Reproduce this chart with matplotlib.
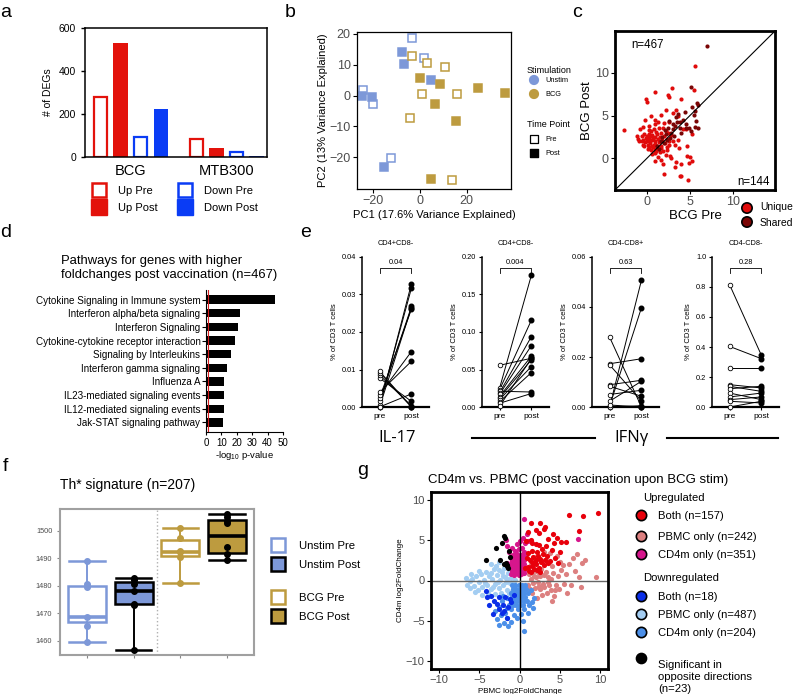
import matplotlib
matplotlib.use('Agg')
import matplotlib.pyplot as plt
from matplotlib.patches import Rectangle
import numpy as np

plt.rcParams['font.family'] = ['Liberation Sans', 'DejaVu Sans']
plt.rcParams['mathtext.fontset'] = 'custom'
plt.rcParams['mathtext.rm'] = 'Liberation Sans'
plt.rcParams['mathtext.it'] = 'Liberation Sans:italic'
plt.rcParams['mathtext.bf'] = 'Liberation Sans:bold'

# ---------------- data ----------------
# a: number of DEGs
a_groups = ['BCG', 'MTB300']
a_up_pre = [280, 84]
a_up_post = [530, 42]
a_down_pre = [94, 25]
a_down_post = [222, 5]

# b: PCA
b_unstim_pre = [(-3.6, 18.6), (1.7, 12.2), (-24.3, 1.7), (-20.0, -2.7), (-12.6, -20.4)]
b_unstim_post = [(-7.6, 14.0), (-7.0, 10.2), (4.6, 5.2), (-24.7, 0.0), (-20.4, -0.4), (-15.6, -23.3)]
b_bcg_pre = [(-3.6, 12.7), (3.1, 10.5), (10.7, 9.2), (0.7, 0.5), (15.9, 0.6), (-4.3, -7.2), (13.6, -27.4)]
b_bcg_post = [(0.1, 5.8), (8.6, 3.7), (6.6, -2.7), (15.6, -8.1), (24.7, 2.6), (36.4, 0.8), (4.6, -27.1)]

# c: BCG pre vs post log2FC
c_unique = [(5.6, 10.8), (0.9, 7.8), (2.9, 8.2), (-0.1, 6.9), (0.0, 6.6), (2.5, 7.4), (2.6, 7.2), (4.0, 6.9),
            (5.5, 8.0), (-2.6, 3.3), (0.5, 4.9), (-0.2, 4.5), (-0.8, 3.4), (-1.2, 2.6), (1.9, -0.7), (2.0, -1.8),
            (2.7, 0.3), (2.8, 0.0), (3.4, -0.4), (3.3, -1.0), (4.0, -0.7), (3.8, -2.1), (4.0, -2.1), (4.8, -2.5),
            (4.7, 0.3), (5.0, 0.2), (4.9, -0.6), (5.2, -0.3), (4.7, 1.4), (5.2, 2.8), (3.7, 1.2), (3.6, 2.2),
            (4.2, 3.4), (4.6, 3.4), (3.6, 4.9), (3.4, 5.7), (3.0, 5.3), (2.2, 5.7), (1.6, 5.1), (0.9, 4.5),
            (0.3, 3.8), (-0.4, 3.7), (-1.0, 2.3), (-0.6, 2.0), (1.5, 0.7), (0.9, 0.9), (1.3, 0.2), (2.3, 1.0),
            (2.6, 1.6), (3.1, 2.0), (3.3, 1.6), (-0.9, 2.0), (-0.5, 1.6), (0.2, 1.2), (0.6, 0.5), (1.0, -0.3),
            (1.6, -0.2), (2.2, 0.4), (-0.3, 2.9), (0.4, 2.6), (0.0, 2.0), (0.2, 2.3), (0.4, 1.8), (0.6, 2.1),
            (0.8, 1.6), (1.0, 2.0), (1.2, 1.4), (1.4, 1.9), (0.1, 1.6), (0.3, 1.3), (0.5, 1.0), (0.7, 1.3),
            (0.9, 1.1), (1.1, 0.9), (1.3, 1.1), (-0.2, 1.9), (-0.4, 2.2), (0.0, 2.6), (0.3, 2.9), (0.6, 2.7),
            (0.9, 2.5), (1.2, 2.8), (1.5, 2.5), (1.7, 3.0), (2.0, 2.6), (1.8, 2.1), (1.6, 1.5), (2.1, 1.8),
            (2.4, 2.3), (0.5, 3.2), (0.8, 3.4), (1.1, 3.1), (1.4, 3.5), (1.9, 3.6), (2.2, 3.2), (0.1, 1.1),
            (0.6, 1.5), (1.0, 1.7), (1.3, 2.3), (0.4, 2.2), (0.7, 2.4), (-0.1, 2.4), (1.7, 1.2), (2.3, 1.3),
            (2.6, 2.0), (2.8, 2.7), (2.5, 3.0), (1.0, 4.0), (1.3, 4.3), (2.0, 4.1), (2.6, 4.2), (0.2, 3.3),
            (-0.6, 2.6), (-0.3, 1.4), (0.9, 0.6), (1.9, 0.9)]
c_shared = [(7.05, 13.2), (5.1, 8.4), (5.8, 6.5), (5.9, 6.3), (5.3, 6.0), (5.6, 5.5), (5.5, 5.1), (5.7, 4.4),
            (5.6, 3.7), (5.9, 3.6), (2.5, 3.5), (3.0, 4.0), (3.5, 4.2), (2.8, 3.0), (3.8, 3.5), (4.2, 4.5),
            (4.5, 3.6), (2.2, 2.8), (1.8, 2.5), (3.2, 2.6), (4.0, 3.0), (2.6, 4.4), (3.4, 4.8), (3.6, 5.2),
            (4.6, 4.0), (1.2, 1.4), (1.6, 2.0), (2.0, 1.8), (2.4, 2.2), (5.1, 3.2), (4.9, 3.6), (3.0, 3.4),
            (3.3, 3.8), (2.7, 2.4), (1.4, 1.1), (2.1, 3.3), (3.9, 4.2), (4.4, 5.4)]

# d: pathways
d_terms = ['Cytokine Signaling in Immune system', 'Interferon alpha/beta signaling', 'Interferon Signaling',
           'Cytokine-cytokine receptor interaction', 'Signaling by Interleukins', 'Interferon gamma signaling',
           'Influenza A', 'IL23-mediated signaling events', 'IL12-mediated signaling events',
           'Jak-STAT signaling pathway']
d_logp = [45, 21.8, 21, 18.6, 16, 13.5, 11.7, 11.7, 11.7, 11.3]

# e: paired flow data
e_titles = ['CD4+CD8-', 'CD4+CD8-', 'CD4-CD8+', 'CD4-CD8-']
e_pvals = ['0.04', '0.004', '0.63', '0.28']
e1_pre = [0.0, 0.0005, 0.0015, 0.0024, 0.0, 0.0033, 0.0039, 0.0, 0.0077, 0.0085, 0.0092, 0.0095]
e1_post = [0.0329, 0.0317, 0.0268, 0.0261, 0.0265, 0.0148, 0.0122, 0.0035, 0.0015, 0.0003, 0.0, 0.0]
e2_pre = [0.0556, 0.025, 0.023, 0.021, 0.019, 0.017, 0.014, 0.012, 0.010, 0.007, 0.005, 0.001]
e2_post = [0.065, 0.176, 0.116, 0.020, 0.094, 0.082, 0.068, 0.063, 0.054, 0.046, 0.018, 0.065]
e3_pre = [0.0, 0.0003, 0.028, 0.0173, 0.0169, 0.0089, 0.0083, 0.005, 0.0023, 0.0, 0.0008]
e3_post = [0.0507, 0.0397, 0.0, 0.0193, 0.0023, 0.0107, 0.0043, 0.0067, 0.0103, 0.0005, 0.0]
e4_pre = [0.816, 0.404, 0.258, 0.149, 0.138, 0.122, 0.093, 0.067, 0.049, 0.038, 0.0]
e4_post = [0.344, 0.322, 0.258, 0.127, 0.104, 0.138, 0.049, 0.093, 0.067, 0.027, 0.038]
e_ymax = [0.04, 0.20, 0.06, 1.0]
e_ystep = [0.01, 0.05, 0.02, 0.2]

# f: Th* signature boxes
f_groups = ['Unstim Pre', 'Unstim Post', 'BCG Pre', 'BCG Post']
f_lo = [1459.5, 1456.5, 1481.0, 1489.5]
f_q1 = [1467.0, 1473.5, 1491.0, 1492.0]
f_med = [1468.7, 1478.0, 1492.5, 1498.0]
f_q3 = [1480.0, 1481.3, 1496.7, 1504.0]
f_hi = [1489.0, 1483.0, 1501.0, 1506.0]
f_pts = [[1489, 1480.5, 1479.5, 1468.5, 1465.5, 1459.5],
         [1483, 1482, 1480.5, 1478, 1473.5, 1473, 1456.5],
         [1501, 1497.5, 1492.8, 1492.3, 1490.5, 1481],
         [1506, 1505, 1503.5, 1503, 1494, 1491.5, 1489.5]]

# g: CD4m vs PBMC
g_up_pbmc = [(1.1, -0.5), (1.4, 0.2), (1.7, -0.3), (2.0, 0.4), (2.3, -0.2), (2.6, 0.5), (2.9, -0.4), (1.2, 0.8),
             (1.5, 1.1), (1.8, 0.6), (2.1, 1.2), (2.4, 0.9), (2.7, 1.4), (3.0, 0.7), (3.3, 1.1), (3.6, 0.4),
             (1.3, -1.0), (1.9, -0.9), (2.5, -1.1), (3.1, -0.8), (3.5, -0.2), (3.9, 0.2), (4.2, 0.9), (4.5, -0.5),
             (4.8, 0.6), (3.4, -1.5), (2.8, -1.8), (3.9, -1.2), (4.3, -1.9), (4.1, -2.6), (2.2, -2.2), (1.6, -1.6),
             (5.2, 1.3), (5.5, -0.4), (5.8, 0.8), (6.1, 2.0), (6.4, -0.6), (6.9, 1.2), (7.4, 0.4), (7.6, -0.8),
             (7.8, 2.2), (8.1, 2.5), (9.5, 0.4), (5.0, 2.3), (4.6, 3.0), (3.8, 3.4), (3.3, 2.6), (4.0, 1.8),
             (5.4, 1.9), (6.6, 2.8), (7.1, 3.3), (1.4, 2.0), (1.0, 1.5), (2.0, 2.9), (3.0, 3.5), (4.4, -1.2),
             (5.9, -1.5), (4.9, -1.1), (3.7, -0.6), (2.4, -0.7)]
g_down_pbmc = [(-6.5, -0.5), (-6.7, 0.3), (-6.1, -0.9), (-5.9, 0.2), (-6.2, -0.1), (-5.6, -0.7), (-5.4, 0.5),
               (-5.2, -1.2), (-5.0, -0.2), (-4.8, 0.8), (-4.6, -0.8), (-4.4, 0.1), (-4.2, 1.1), (-4.0, -0.5),
               (-3.8, 0.5), (-3.6, -1.1), (-3.4, 0.2), (-3.2, 1.4), (-3.0, -0.4), (-2.8, 0.7), (-2.6, -0.9),
               (-2.4, 0.1), (-2.2, 1.0), (-2.0, -0.6), (-1.8, 0.4), (-1.6, -1.2), (-1.4, 0.9), (-1.2, -0.3),
               (-1.0, 0.3), (-0.8, -0.8), (-0.6, 0.1), (-2.9, 1.8), (-2.5, 2.3), (-3.6, 2.0), (-1.9, 1.6),
               (-1.1, 1.3), (-0.7, -0.3), (-3.9, -1.5), (-4.7, -1.8), (-5.5, -1.4), (-2.3, -1.6), (-1.3, -1.6),
               (-0.9, -1.3), (-6.0, 0.8), (-5.0, 1.2), (-3.1, -1.7), (-2.1, 0.5), (-1.5, 0.2), (-0.8, 0.8),
               (-2.7, -0.2), (-3.3, -0.8), (-4.3, -0.3), (-1.7, -0.2), (-0.6, -1.0), (-2.6, 1.3), (-3.5, 0.9)]
g_down_cd4 = [(-0.9, -0.5), (-0.5, -0.6), (-0.1, -0.5), (0.3, -0.6), (0.7, -0.5), (-0.8, -1.0), (-0.4, -1.1),
              (0.0, -1.0), (0.4, -1.1), (0.8, -1.0), (-1.0, -1.5), (-0.6, -1.6), (-0.2, -1.5), (0.2, -1.6),
              (0.6, -1.5), (1.0, -1.6), (-0.9, -2.0), (-0.5, -2.1), (-0.1, -2.0), (0.3, -2.1), (0.7, -2.0),
              (-1.1, -2.5), (-0.7, -2.6), (-0.3, -2.5), (0.1, -2.6), (0.5, -2.5), (0.9, -2.6), (-1.3, -3.0),
              (-0.8, -3.1), (-0.4, -3.0), (0.0, -3.1), (0.4, -3.0), (1.2, -3.1), (-1.6, -3.4), (-1.0, -3.6),
              (-0.2, -3.5), (0.6, -3.6), (1.5, -2.7), (1.8, -2.2), (1.4, -1.2), (1.7, -3.4), (-2.2, -2.6),
              (-2.6, -3.3), (-3.0, -3.8), (-2.8, -4.8), (-2.3, -4.3), (-1.8, -4.0), (-1.5, -4.6), (-1.1, -5.2),
              (-0.7, -4.3), (-0.3, -4.7), (0.2, -4.2), (0.4, -5.0), (0.6, -6.3), (-1.9, -5.3), (-2.5, -5.5),
              (-1.4, -5.6), (1.1, -4.0), (-1.6, -2.2), (-2.0, -1.9)]
g_down_both = [(-4.0, -2.0), (-3.6, -1.9), (-3.2, -2.5), (-2.8, -2.9), (-2.5, -3.6), (-2.1, -3.1), (-1.6, -4.6),
               (-1.9, -3.8), (-1.2, -2.3), (-1.0, -2.7), (-1.4, -3.3), (-0.7, -1.8), (-3.3, -4.2), (-2.2, -4.0),
               (-1.8, -2.0), (-2.6, -2.0), (-3.8, -3.0), (-4.2, -1.3)]
g_up_cd4 = [(-1.0, 0.8), (-0.7, 0.7), (-0.4, 0.9), (-0.1, 0.7), (0.2, 0.8), (0.5, 0.9), (-0.9, 1.2), (-0.6, 1.3),
            (-0.3, 1.2), (0.0, 1.3), (0.3, 1.2), (0.6, 1.3), (-1.1, 1.6), (-0.8, 1.7), (-0.5, 1.6), (-0.2, 1.7),
            (0.1, 1.6), (0.4, 1.7), (-1.0, 2.0), (-0.7, 2.1), (-0.4, 2.0), (-0.1, 2.1), (0.2, 2.0), (0.5, 2.1),
            (-0.9, 2.4), (-0.6, 2.5), (-0.3, 2.4), (0.0, 2.5), (0.3, 2.4), (0.6, 2.5), (-1.0, 2.8), (-0.7, 2.9),
            (-0.4, 2.8), (-0.1, 2.9), (0.2, 2.8), (0.5, 3.0), (-0.8, 3.2), (-0.3, 3.3), (0.2, 3.2), (0.6, 7.7),
            (0.4, 5.3), (0.0, 4.9), (-0.3, 4.5), (0.3, 4.1), (-0.6, 3.7), (0.5, 3.6), (-1.5, 4.3), (-1.3, 3.5),
            (-1.6, 2.2), (-1.4, 1.7), (0.7, 4.6), (-0.1, 3.9), (-0.9, 4.0), (0.8, 3.3), (1.0, 4.9), (-1.7, 5.0),
            (0.9, 5.8), (7.3, 5.1)]
g_up_both = [(1.2, 1.2), (1.5, 1.8), (1.8, 1.4), (2.1, 2.0), (2.4, 1.6), (2.7, 2.3), (3.0, 1.9), (1.3, 2.5),
             (1.7, 2.9), (2.0, 2.6), (2.3, 3.0), (2.6, 2.7), (2.9, 3.3), (3.2, 2.5), (1.1, 3.4), (1.5, 3.7),
             (2.2, 3.6), (2.8, 3.9), (3.4, 3.1), (3.6, 2.2), (1.4, 1.0), (2.5, 1.1), (1.9, 2.2), (2.2, 1.3),
             (1.6, 2.3), (1.0, 1.7), (2.4, 4.4), (1.6, 4.6), (3.3, 4.3), (4.0, 3.8), (4.6, 5.3), (5.1, 4.8),
             (5.8, 4.8), (4.2, 5.8), (3.2, 6.7), (3.1, 6.4), (2.6, 7.1), (2.4, 5.9), (2.1, 6.3), (1.4, 7.1),
             (1.4, 5.0), (2.0, 4.5), (6.1, 8.2), (7.9, 8.0), (9.8, 8.4), (7.4, 6.2), (5.0, 3.6), (4.4, 2.8),
             (3.8, 2.4), (4.8, 2.2), (0.8, 4.9), (1.1, 6.0), (3.6, 5.1), (4.3, 4.6), (0.9, 2.8), (0.7, 1.5)]
g_opposite = [(-1.9, 5.5), (-1.8, 5.3), (-2.9, 4.0), (-4.2, 2.6), (-1.3, 3.7), (-1.7, 2.2), (-1.6, 1.8),
              (-1.4, 1.6), (-1.9, 2.0), (-2.4, 2.5), (-1.2, 2.9), (-2.2, 4.6), (-1.5, 1.9)]
g_labels_up = ['Both (n=157)', 'PBMC only (n=242)', 'CD4m only (n=351)']
g_labels_down = ['Both (n=18)', 'PBMC only (n=487)', 'CD4m only (n=204)']

# ---------------- colours ----------------
RED = '#e3120b'
BLUE = '#0a3cf5'
UNSTIM = '#7d98d8'
BCG = '#bd9b3f'
C_UNIQUE = '#e00b0b'
C_SHARED = '#7a0505'
G_UP_BOTH = '#e8000b'
G_UP_PBMC = '#dc8080'
G_UP_CD4 = '#d6168c'
G_DN_BOTH = '#0a2ee8'
G_DN_PBMC = '#a3cdf2'
G_DN_CD4 = '#4b8fe8'
TICK = '#4d4d4d'

W, H = 796, 694
fig = plt.figure(figsize=(W / 100, H / 100), dpi=100)


def box(x0, y0, x1, y1):
    return fig.add_axes([x0 / W, 1 - y1 / H, (x1 - x0) / W, (y1 - y0) / H])


bg = fig.add_axes([0, 0, 1, 1], zorder=10)
bg.set_xlim(0, W)
bg.set_ylim(H, 0)
bg.axis('off')

for lab, x, y in [('a', 6, 12), ('b', 290, 12), ('c', 577, 12), ('d', 6, 232),
                  ('e', 306, 232), ('f', 5, 466), ('g', 363, 470)]:
    bg.text(x, y, lab, fontsize=14, ha='center', va='center')

# ---------------- a ----------------
ax = box(85, 28, 267, 157)
series = [a_up_pre, a_up_post, a_down_pre, a_down_post]
colors = [RED, RED, BLUE, BLUE]
filled = [False, True, False, True]
for j, vals in enumerate(series):
    xs = [g * 4.75 + j for g in range(len(a_groups))]
    if filled[j]:
        ax.bar(xs, vals, width=0.74, color=colors[j])
    else:
        ax.bar(xs, vals, width=0.64, facecolor='white', edgecolor=colors[j], linewidth=1.6)
ax.set_xlim(-0.77, 8.26)
ax.set_ylim(0, 600)
ax.set_yticks([0, 200, 400, 600])
ax.tick_params(axis='y', labelsize=7.5, length=3, width=1)
ax.set_xticks([1.5, 6.25], a_groups, fontsize=10.5)
ax.tick_params(axis='x', length=0, pad=5)
ax.set_ylabel('# of DEGs', fontsize=7.5, labelpad=4)
for s in ax.spines.values():
    s.set_linewidth(1.1)

a_leg = [('Up Pre', RED, False, 91, 189.5), ('Up Post', RED, True, 91, 207),
         ('Down Pre', BLUE, False, 177, 189.5), ('Down Post', BLUE, True, 177, 207)]
for lab, col, fill, x, y in a_leg:
    if fill:
        bg.add_patch(Rectangle((x, y - 8), 16, 16, facecolor=col, edgecolor=col))
    else:
        bg.add_patch(Rectangle((x + 1, y - 7), 14, 14, facecolor='white', edgecolor=col, linewidth=1.8))
    bg.text(x + 27, y + 1, lab, fontsize=8, va='center')

# ---------------- b ----------------
ax = box(357, 32, 511, 189)
for pts, col, fill in [(b_unstim_pre, UNSTIM, False), (b_unstim_post, UNSTIM, True),
                       (b_bcg_pre, BCG, False), (b_bcg_post, BCG, True)]:
    p = np.array(pts)
    ax.plot(p[:, 0], p[:, 1], 's', ms=5.3, color=col, mfc=col if fill else 'white', mew=1.1, ls='none')
ax.set_xlim(-27, 39)
ax.set_ylim(-30.3, 20.6)
ax.set_xticks([-20, 0, 20])
ax.set_yticks([-20, -10, 0, 10, 20])
ax.tick_params(labelsize=9, labelcolor=TICK, length=3, width=0.8, pad=1.5)
ax.set_xlabel('PC1 (17.6% Variance Explained)', fontsize=8, labelpad=2)
ax.set_ylabel('PC2 (13% Variance Explained)', fontsize=8, labelpad=1)
for s in ax.spines.values():
    s.set_linewidth(0.9)

bg.text(527, 70, 'Stimulation', fontsize=6.5, va='center')
bg.scatter([534, 534], [80, 94], s=40, c=[UNSTIM, BCG])
bg.text(545, 80, 'Unstim', fontsize=5.3, va='center')
bg.text(545, 94, 'BCG', fontsize=5.3, va='center')
bg.text(527, 124, 'Time Point', fontsize=6.5, va='center')
bg.scatter([534], [139], s=40, marker='s', facecolors='white', edgecolors='black', linewidths=0.9)
bg.scatter([534], [153], s=40, marker='s', c='black')
bg.text(545, 139, 'Pre', fontsize=5.3, va='center')
bg.text(545, 153, 'Post', fontsize=5.3, va='center')

# ---------------- c ----------------
ax = box(615, 31, 775, 190)
cu = np.array(c_unique)
cs = np.array(c_shared)
ax.scatter(cu[:, 0], cu[:, 1], s=9, color=C_UNIQUE, linewidths=0)
ax.scatter(cs[:, 0], cs[:, 1], s=9, color=C_SHARED, linewidths=0)
ax.plot([-3.7, 14.9], [-3.7, 14.9], color='black', lw=0.8)
ax.set_xlim(-3.7, 14.9)
ax.set_ylim(-3.7, 14.9)
ax.set_xticks([0, 5, 10])
ax.set_yticks([0, 5, 10])
ax.tick_params(labelsize=9, labelcolor=TICK, length=3, width=0.8, pad=1.5)
ax.set_xlabel('BCG Pre', fontsize=9.5, labelpad=1)
ax.set_ylabel('BCG Post', fontsize=9.5, labelpad=1)
ax.text(0.1, 0.91, 'n=467', transform=ax.transAxes, fontsize=8.3, va='center')
ax.text(0.97, 0.05, 'n=144', transform=ax.transAxes, fontsize=8.3, va='center', ha='right')
for s in ax.spines.values():
    s.set_linewidth(2)

bg.scatter([747, 747], [208, 222], s=55, c=[C_UNIQUE, C_SHARED], edgecolors='black', linewidths=1.2)
bg.text(760, 207, 'Unique', fontsize=7.5, va='center')
bg.text(760, 223, 'Shared', fontsize=7.5, va='center')

# ---------------- d ----------------
bg.text(61, 268, 'Pathways for genes with higher\nfoldchanges post vaccination (n=467)',
        fontsize=9.4, va='center', linespacing=1.15)
ax = box(206, 290, 283, 432)
ax.barh(range(len(d_terms)), d_logp, height=0.6, color='black')
ax.axvline(1.3, color='#d62020', lw=0.8)
ax.set_ylim(len(d_terms) - 0.3, -0.7)
ax.set_xlim(0, 50)
ax.set_yticks(range(len(d_terms)), d_terms, fontsize=7.1)
ax.set_xticks([0, 10, 20, 30, 40, 50])
ax.tick_params(axis='x', labelsize=7, length=2.5, width=0.8, pad=1.5)
ax.tick_params(axis='y', length=3, width=0.8, pad=1)
ax.set_xlabel('-log$_{10}$ p-value', fontsize=6.8, labelpad=1)
ax.spines['top'].set_visible(False)
ax.spines['right'].set_visible(False)

# ---------------- e ----------------
e_pre = [e1_pre, e2_pre, e3_pre, e4_pre]
e_post = [e1_post, e2_post, e3_post, e4_post]
e_lefts = [362, 482, 592, 712]
for i in range(4):
    ax = box(e_lefts[i], 257, e_lefts[i] + 67, 407)
    for a_, b_ in zip(e_pre[i], e_post[i]):
        ax.plot([0, 1], [a_, b_], color='black', lw=0.7, clip_on=False)
    ax.plot(np.zeros(len(e_pre[i])), e_pre[i], 'o', ms=3.3, mfc='white', mec='black', mew=0.6,
            ls='none', clip_on=False, zorder=3)
    ax.plot(np.ones(len(e_post[i])), e_post[i], 'o', ms=3.3, color='black', ls='none',
            clip_on=False, zorder=3)
    ax.set_xlim(-0.55, 1.55)
    ax.set_ylim(0, e_ymax[i])
    ticks = np.arange(0, e_ymax[i] + e_ystep[i] / 2, e_ystep[i])
    fmt = '%.1f' if i == 3 else '%.2f'
    ax.set_yticks(ticks, [fmt % t for t in ticks])
    ax.set_xticks([0, 1], ['pre', 'post'], fontsize=6)
    ax.tick_params(axis='y', labelsize=5.3, length=2.5, width=0.8, pad=1.5)
    ax.tick_params(axis='x', length=2.5, width=0.8, pad=1.5)
    ax.set_ylabel('% of CD3 T cells', fontsize=5.5, labelpad=3)
    ax.spines['top'].set_visible(False)
    ax.spines['right'].set_visible(False)
    ax.spines['left'].set_linewidth(1.1)
    ax.spines['bottom'].set_linewidth(1.6)
    tr = ax.get_xaxis_transform()
    ax.plot([0, 0, 1, 1], [0.89, 0.927, 0.927, 0.89], color='black', lw=0.6, transform=tr, clip_on=False)
    ax.text(0.5, 0.965, e_pvals[i], transform=tr, fontsize=5.3, ha='center', va='center')
    ax.text(0.5, 1.093, e_titles[i], transform=ax.transAxes, fontsize=5.3, ha='center', va='center')

bg.text(397, 438, 'IL-17', family=['Open Sans', 'DejaVu Sans'], fontsize=12, ha='center', va='center')
bg.text(631, 438, 'IFN\u03b3', family=['Open Sans', 'DejaVu Sans'], fontsize=12, ha='center', va='center')
bg.plot([472, 595], [438, 438], color='black', lw=1.5)
bg.plot([667, 778], [438, 438], color='black', lw=1.5)

# ---------------- f ----------------
bg.text(60, 485, 'Th* signature (n=207)', fontsize=10, va='center')
ax = box(60, 509, 254, 655)
f_edge = [UNSTIM, 'black', BCG, 'black']
f_fill = ['white', UNSTIM, 'white', BCG]
f_ptcol = [UNSTIM, 'black', BCG, 'black']
for i in range(4):
    st = dict(whislo=f_lo[i], q1=f_q1[i], med=f_med[i], q3=f_q3[i], whishi=f_hi[i], fliers=[])
    ax.bxp([st], positions=[i + 1], widths=0.82, capwidths=0.76, patch_artist=True, showfliers=False,
           boxprops=dict(facecolor=f_fill[i], edgecolor=f_edge[i], linewidth=1.8),
           whiskerprops=dict(color=f_edge[i], linewidth=1.4),
           capprops=dict(color=f_edge[i], linewidth=1.8),
           medianprops=dict(color=f_edge[i], linewidth=2.6))
    ax.scatter(np.full(len(f_pts[i]), i + 1), f_pts[i], s=16, color=f_ptcol[i], zorder=3)
ax.axvline(2.5, color='#b0b0b0', ls=':', lw=1)
ax.set_xlim(0.42, 4.58)
ax.set_ylim(1454.8, 1508)
ax.set_xticks([1, 2, 3, 4], ['', '', '', ''])
ax.set_yticks([1460, 1470, 1480, 1490, 1500])
ax.tick_params(labelsize=5.3, labelcolor=TICK, color='#888888', length=2.5, width=0.8, pad=3)
for s in ax.spines.values():
    s.set_linewidth(1.5)
    s.set_color('#a0a0a0')

for lab, face, edge, y in [('Unstim Pre', 'white', UNSTIM, 545), ('Unstim Post', UNSTIM, 'black', 564),
                           ('BCG Pre', 'white', BCG, 597), ('BCG Post', BCG, 'black', 616)]:
    bg.add_patch(Rectangle((271, y - 7), 14, 14, facecolor=face, edgecolor=edge, linewidth=1.8))
    bg.text(299, y + 1, lab, fontsize=8.2, va='center')

# ---------------- g ----------------
bg.text(428, 480, 'CD4m vs. PBMC (post vaccination upon BCG stim)', fontsize=9.5, va='center')
ax = box(431, 492, 608, 669)
for pts, col in [(g_up_pbmc, G_UP_PBMC), (g_down_pbmc, G_DN_PBMC), (g_down_cd4, G_DN_CD4),
                 (g_down_both, G_DN_BOTH), (g_up_cd4, G_UP_CD4), (g_up_both, G_UP_BOTH),
                 (g_opposite, 'black')]:
    p = np.array(pts)
    ax.scatter(p[:, 0], p[:, 1], s=14, color=col, linewidths=0)
ax.axvline(0, color='black', lw=1)
ax.axhline(0, color='#666666', lw=1)
ax.set_xlim(-11, 11)
ax.set_ylim(-11, 11)
ax.set_xticks([-10, -5, 0, 5, 10], ['\u221210', '\u22125', '0', '5', '10'])
ax.set_yticks([-10, -5, 0, 5, 10], ['\u221210', '\u22125', '0', '5', '10'])
ax.tick_params(labelsize=8, labelcolor=TICK, length=3, width=0.8, pad=1.5)
ax.set_xlabel('PBMC log2FoldChange', fontsize=5.8, labelpad=2)
ax.set_ylabel('CD4m log2FoldChange', fontsize=5.8, labelpad=1)
for s in ax.spines.values():
    s.set_linewidth(2)

bg.text(643, 498, 'Upregulated', fontsize=8.1, va='center')
for lab, col, y in zip(g_labels_up, [G_UP_BOTH, G_UP_PBMC, G_UP_CD4], [515, 536, 554]):
    bg.scatter([641], [y], s=55, color=col, edgecolors='black', linewidths=1.2)
    bg.text(658, y + 1, lab, fontsize=8.1, va='center')
bg.text(643, 578, 'Downregulated', fontsize=8.1, va='center')
for lab, col, y in zip(g_labels_down, [G_DN_BOTH, G_DN_PBMC, G_DN_CD4], [596, 614, 632]):
    bg.scatter([641], [y], s=55, color=col, edgecolors='black', linewidths=1.2)
    bg.text(658, y + 1, lab, fontsize=8.1, va='center')
bg.scatter([641], [658], s=55, color='black')
bg.text(658, 660, 'Significant in\nopposite directions\n(n=23)', fontsize=8.1, va='top', linespacing=1.25)

fig.savefig('out.png', dpi=100)
